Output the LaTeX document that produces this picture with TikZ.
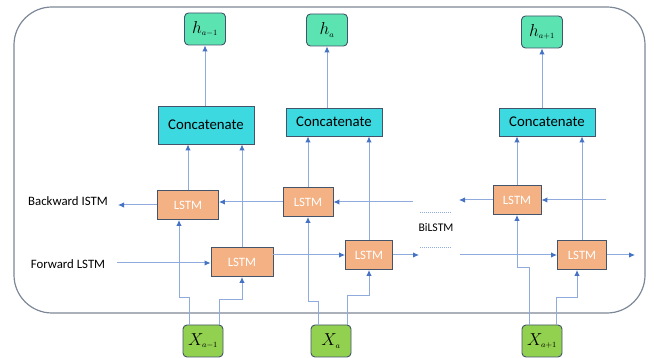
\documentclass[tikz,border=0pt]{standalone}
\usepackage{fontspec}
\setmainfont{Carlito}
\usetikzlibrary{arrows.meta}
\definecolor{linkblue}{HTML}{8FAADC}
\definecolor{tipblue}{HTML}{4472C4}
\definecolor{lstmfill}{HTML}{F4B183}
\definecolor{concatfill}{HTML}{3DD9E0}
\definecolor{hidfill}{HTML}{5CE3B2}
\definecolor{inpfill}{HTML}{92D050}
\definecolor{boxline}{HTML}{44546A}
\begin{document}
\begin{tikzpicture}[x=1pt, y=1pt,
    lstm/.style={draw=boxline, line width=0.9pt, fill=lstmfill, text=white, inner sep=0pt, minimum height=29pt, font=\fontsize{12.8}{14}\selectfont},
    concat/.style={draw=boxline, line width=0.9pt, fill=concatfill, inner sep=0pt, minimum width=96pt, minimum height=28pt, font=\fontsize{14.8}{16}\selectfont},
    hid/.style={draw=boxline, line width=0.9pt, fill=hidfill, rounded corners=4pt, inner sep=0pt, minimum width=41pt, minimum height=32pt, font=\fontsize{16}{18}\selectfont},
    inp/.style={draw=boxline, line width=0.9pt, fill=inpfill, rounded corners=4pt, inner sep=0pt, minimum width=40pt, minimum height=32pt, font=\fontsize{17}{19}\selectfont},
    link/.style={draw=linkblue, line width=1pt, -{Latex[length=6pt, width=5.5pt, color=tipblue]}}]
    \useasboundingbox (0,0) rectangle (654,358);
    \draw[draw=boxline!70, line width=1.2pt, rounded corners=38pt] (14,45) rectangle (645,351);

    % outputs
    \node[hid] (h1) at (205,329) {$h_{\scriptscriptstyle a-1}$};
    \node[hid] (h2) at (327,328) {$h_{\scriptscriptstyle a}$};
    \node[hid] (h3) at (542,326) {$h_{\scriptscriptstyle a+1}$};

    \node[concat, minimum height=38pt] (c1) at (206,233) {Concatenate};
    \node[concat] (c2) at (334,236) {Concatenate};
    \node[concat] (c3) at (547,236) {Concatenate};

    % backward and forward cells
    \node[lstm, minimum width=61pt] (b1) at (188,153) {LSTM};
    \node[lstm, minimum width=50pt] (b2) at (308,156) {LSTM};
    \node[lstm, minimum width=48pt] (b3) at (517,158) {LSTM};
    \node[lstm, minimum width=62pt] (f1) at (242,96) {LSTM};
    \node[lstm, minimum width=47pt] (f2) at (369,103) {LSTM};
    \node[lstm, minimum width=49pt] (f3) at (582,103) {LSTM};

    % inputs
    \node[inp] (x1) at (203,17) {$X_{\scriptscriptstyle a-1}$};
    \node[inp] (x2) at (331,17) {$X_{\scriptscriptstyle a}$};
    \node[inp] (x3) at (542,17) {$X_{\scriptscriptstyle a+1}$};

    \node[font=\fontsize{12.8}{14}\selectfont] (bwd) at (68,157) {Backward ISTM};
    \node[font=\fontsize{12.8}{14}\selectfont] (fwd) at (68,94) {Forward LSTM};
    \node[font=\fontsize{11.7}{13}\selectfont] (bi) at (436,130) {BiLSTM};
    \draw[linkblue, line width=1pt, dash pattern=on 1pt off 1pt] (420,145) -- (452,145);
    \draw[linkblue, line width=1pt, dash pattern=on 1pt off 1pt] (420,110) -- (452,110);

    \coordinate (bwdend) at (118,153);
    \coordinate (fwdstart) at (117,95);
    \coordinate (b2in) at (413,156);
    \coordinate (f2out) at (419,103);
    \coordinate (b3out) at (459,158);
    \coordinate (b3in) at (606,158);
    \coordinate (f3in) at (460,103);
    \coordinate (f3out) at (635,103);

    % horizontal flow
    \draw[link] (b1.west) -- (bwdend);
    \draw[link] (fwdstart) -- (f1.west |- fwdstart);
    \draw[link] (b2.west) -- (b2.west -| b1.east);
    \draw[link] (b2in) -- (b2.east);
    \draw[link] (f1.east |- f2.west) -- (f2.west);
    \draw[link] (f2.east) -- (f2out);
    \draw[link] (b3.west) -- (b3out);
    \draw[link] (b3in) -- (b3.east);
    \draw[link] (f3in) -- (f3.west);
    \draw[link] (f3.east) -- (f3out);

    % up into concatenate and outputs
    \foreach \b/\f/\c/\h in {b1/f1/c1/h1, b2/f2/c2/h2, b3/f3/c3/h3} {
        \draw[link] (\b.north) -- (\b.north |- \c.south);
        \draw[link] (\f.north) -- (\f.north |- \c.south);
        \draw[link] (\c.north -| \h.south) -- (\h.south);
    }

    % inputs to cells
    \draw[link] ([xshift=-14pt]x1.north) -- ++(0,27) -| ([xshift=-9pt]b1.south);
    \draw[link] ([xshift=16pt]x1.north) -- ++(0,25) -| (f1.south);
    \draw[link] ([xshift=-13pt]x2.north) -- ++(0,23) -| (b2.south);
    \draw[link] ([xshift=16pt]x2.north) -- ++(0,29) -| (f2.south);
    \draw[link] ([xshift=-13pt]x3.north) -- ++(0,57) -| (b3.south);
    \draw[link] ([xshift=14pt]x3.north) -- ++(0,27) -| ([xshift=-5pt]f3.south);
\end{tikzpicture}
\end{document}
